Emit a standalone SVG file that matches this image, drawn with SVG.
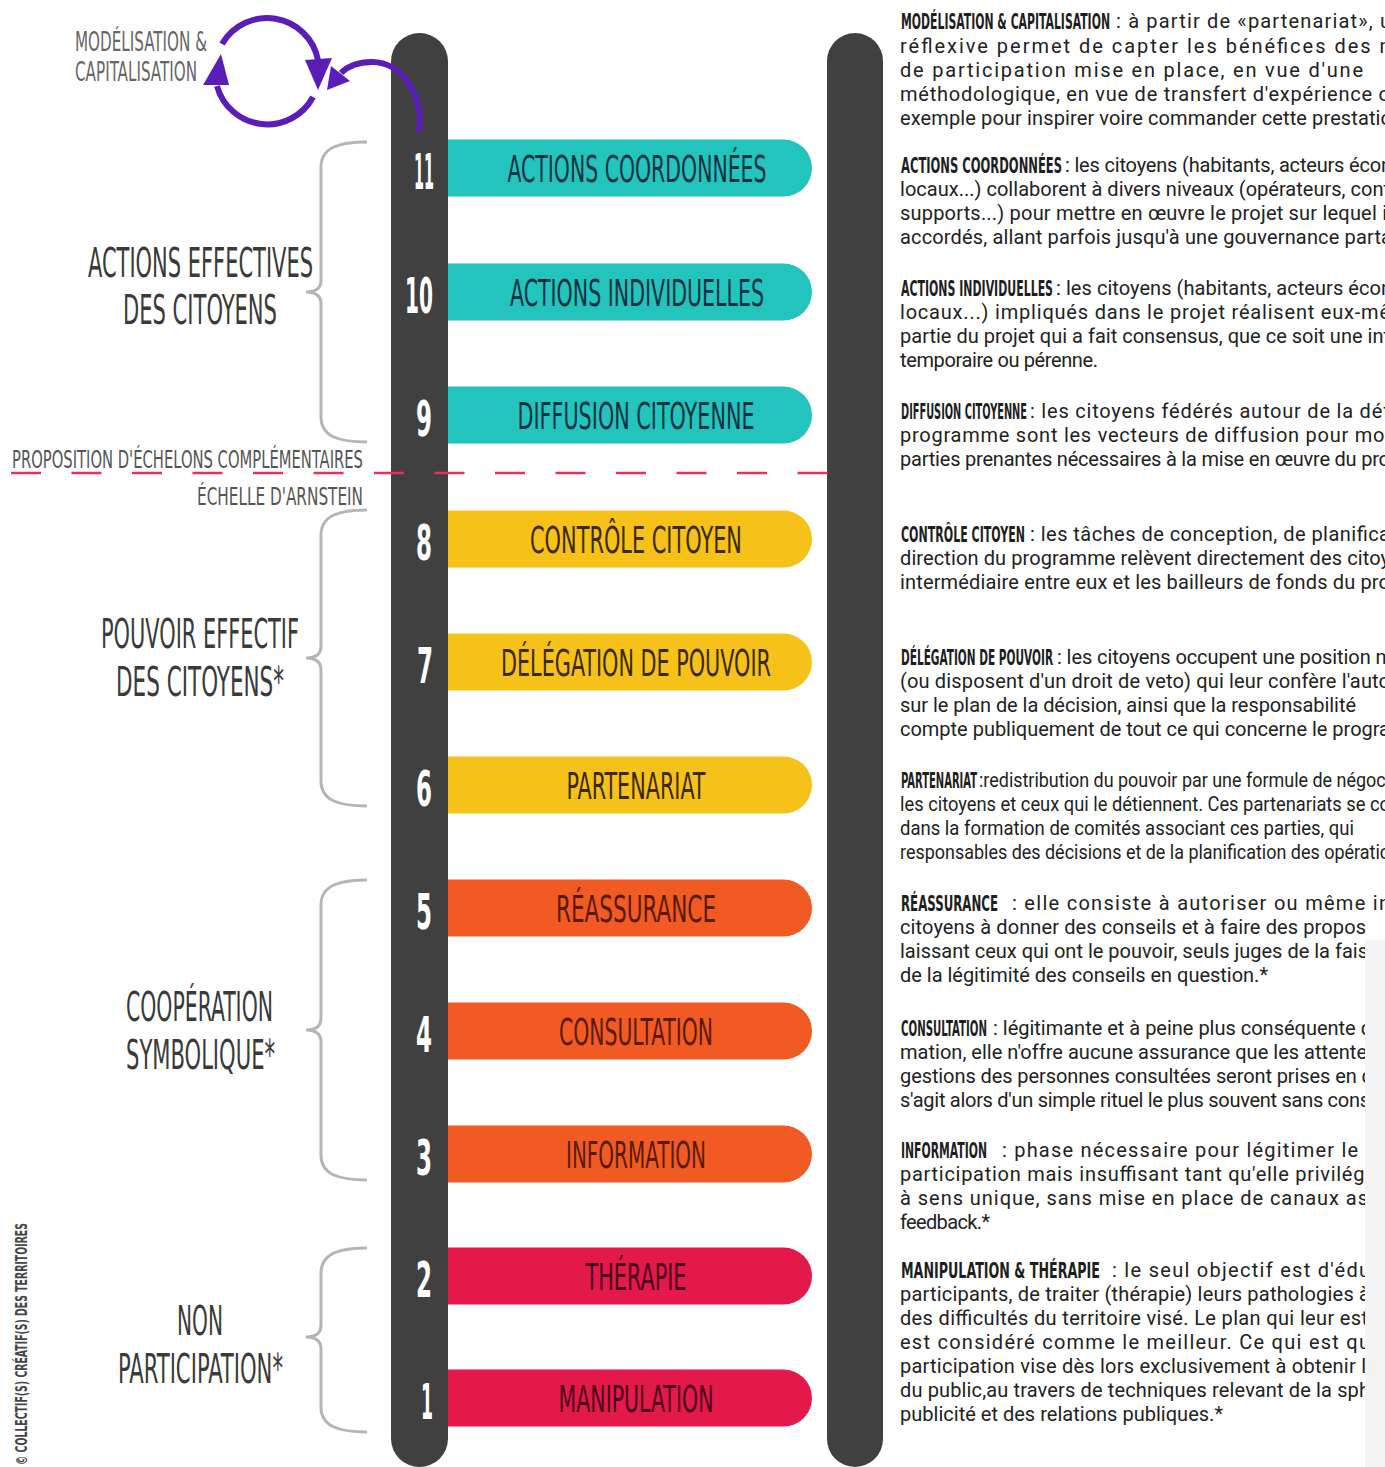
<svg xmlns="http://www.w3.org/2000/svg" width="1385" height="1467" viewBox="0 0 1385 1467">
<defs>
<style>
.rail{fill:#404040}
.cond{font-family:"DejaVu Sans Condensed","DejaVu Sans","Liberation Sans Narrow",sans-serif;font-stretch:condensed}
.num{font-size:50px;fill:#ffffff;text-anchor:middle;font-weight:bold}
.bt{font-size:38px;text-anchor:middle}
.grp{font-size:41px;fill:#3a3a3a;text-anchor:middle}
.hd{font-size:21px;fill:#1e1e1e;font-weight:bold}
.bd{font-family:Roboto,"Liberation Sans",sans-serif;font-size:20px;fill:#222222}
.brace{fill:none;stroke:#b5b5b5;stroke-width:3}
.cyan{fill:#22c4bd}.yel{fill:#f6c21a}.ora{fill:#f15a22}.red{fill:#e3184b}
.tcyan{fill:#12323f}.tyel{fill:#3b2a05}.tora{fill:#5a1a08}.tred{fill:#4a0618}
.purple{fill:none;stroke:#5b1db8;stroke-width:6}
.phead{fill:#5b1db8}
</style>
</defs>
<rect width="1385" height="1467" fill="#ffffff"/>

<!-- rails -->
<g id="rails">
<rect class="rail" x="391" y="33" width="57" height="1434" rx="28.5"/>
<rect class="rail" x="827" y="33" width="56" height="1434" rx="28"/>
</g>

<!-- rungs -->
<g id="rung11"><path class="cyan" d="M448,139.5 H783.5 a28.5,28.5 0 0 1 0,57 H448 Z"/><text class="cond num" x="424" y="189" textLength="20" lengthAdjust="spacingAndGlyphs">11</text><text class="cond bt tcyan" x="637" y="182" textLength="259" lengthAdjust="spacingAndGlyphs">ACTIONS COORDONNÉES</text></g>
<g id="rung10"><path class="cyan" d="M448,263.5 H783.5 a28.5,28.5 0 0 1 0,57 H448 Z"/><text class="cond num" x="419" y="313" textLength="28" lengthAdjust="spacingAndGlyphs">10</text><text class="cond bt tcyan" x="637" y="306" textLength="254" lengthAdjust="spacingAndGlyphs">ACTIONS INDIVIDUELLES</text></g>
<g id="rung9"><path class="cyan" d="M448,386.5 H783.5 a28.5,28.5 0 0 1 0,57 H448 Z"/><text class="cond num" x="424" y="436" textLength="16" lengthAdjust="spacingAndGlyphs">9</text><text class="cond bt tcyan" x="636" y="429" textLength="237" lengthAdjust="spacingAndGlyphs">DIFFUSION CITOYENNE</text></g>
<g id="rung8"><path class="yel" d="M448,510.5 H783.5 a28.5,28.5 0 0 1 0,57 H448 Z"/><text class="cond num" x="424" y="560" textLength="16" lengthAdjust="spacingAndGlyphs">8</text><text class="cond bt tyel" x="636" y="553" textLength="212" lengthAdjust="spacingAndGlyphs">CONTRÔLE CITOYEN</text></g>
<g id="rung7"><path class="yel" d="M448,633.5 H783.5 a28.5,28.5 0 0 1 0,57 H448 Z"/><text class="cond num" x="425" y="683" textLength="16" lengthAdjust="spacingAndGlyphs">7</text><text class="cond bt tyel" x="636" y="676" textLength="270" lengthAdjust="spacingAndGlyphs">DÉLÉGATION DE POUVOIR</text></g>
<g id="rung6"><path class="yel" d="M448,756.5 H783.5 a28.5,28.5 0 0 1 0,57 H448 Z"/><text class="cond num" x="424" y="806" textLength="16" lengthAdjust="spacingAndGlyphs">6</text><text class="cond bt tyel" x="636" y="799" textLength="139" lengthAdjust="spacingAndGlyphs">PARTENARIAT</text></g>
<g id="rung5"><path class="ora" d="M448,879.5 H783.5 a28.5,28.5 0 0 1 0,57 H448 Z"/><text class="cond num" x="424" y="929" textLength="16" lengthAdjust="spacingAndGlyphs">5</text><text class="cond bt tora" x="636" y="922" textLength="160" lengthAdjust="spacingAndGlyphs">RÉASSURANCE</text></g>
<g id="rung4"><path class="ora" d="M448,1002.5 H783.5 a28.5,28.5 0 0 1 0,57 H448 Z"/><text class="cond num" x="424" y="1052" textLength="16" lengthAdjust="spacingAndGlyphs">4</text><text class="cond bt tora" x="636" y="1045" textLength="154" lengthAdjust="spacingAndGlyphs">CONSULTATION</text></g>
<g id="rung3"><path class="ora" d="M448,1125.5 H783.5 a28.5,28.5 0 0 1 0,57 H448 Z"/><text class="cond num" x="424" y="1175" textLength="16" lengthAdjust="spacingAndGlyphs">3</text><text class="cond bt tora" x="636" y="1168" textLength="140" lengthAdjust="spacingAndGlyphs">INFORMATION</text></g>
<g id="rung2"><path class="red" d="M448,1247.5 H783.5 a28.5,28.5 0 0 1 0,57 H448 Z"/><text class="cond num" x="424" y="1297" textLength="16" lengthAdjust="spacingAndGlyphs">2</text><text class="cond bt tred" x="636" y="1290" textLength="101" lengthAdjust="spacingAndGlyphs">THÉRAPIE</text></g>
<g id="rung1"><path class="red" d="M448,1369.5 H783.5 a28.5,28.5 0 0 1 0,57 H448 Z"/><text class="cond num" x="427" y="1419" textLength="12" lengthAdjust="spacingAndGlyphs">1</text><text class="cond bt tred" x="636" y="1412" textLength="155" lengthAdjust="spacingAndGlyphs">MANIPULATION</text></g>

<!-- dashed separator -->
<g id="separator">
<line x1="11" y1="473" x2="828" y2="473" stroke="#e2335c" stroke-width="2.5" stroke-dasharray="30 30.5"/>
<text class="cond" x="12" y="468" font-size="25" fill="#555555" textLength="351" lengthAdjust="spacingAndGlyphs">PROPOSITION D'ÉCHELONS COMPLÉMENTAIRES</text>
<text class="cond" x="197" y="505" font-size="25" fill="#555555" textLength="166" lengthAdjust="spacingAndGlyphs">ÉCHELLE D'ARNSTEIN</text>
</g>

<!-- group braces and labels -->
<g id="group-actions">
<path class="brace" d="M367,142 C340,142 321,147 321,167 V280 C321,289 314,292 306,292 C314,292 321,295 321,304 V417 C321,437 340,442 367,442"/>
<text class="cond grp" x="200.5" y="277" textLength="225" lengthAdjust="spacingAndGlyphs">ACTIONS EFFECTIVES</text>
<text class="cond grp" x="200" y="324" textLength="154" lengthAdjust="spacingAndGlyphs">DES CITOYENS</text>
</g>
<g id="group-pouvoir">
<path class="brace" d="M367,510 C340,510 321,515 321,535 V646 C321,655 314,658 306,658 C314,658 321,661 321,670 V781 C321,801 340,806 367,806"/>
<text class="cond grp" x="200" y="648" textLength="198" lengthAdjust="spacingAndGlyphs">POUVOIR EFFECTIF</text>
<text class="cond grp" x="200" y="696" textLength="168" lengthAdjust="spacingAndGlyphs">DES CITOYENS*</text>
</g>
<g id="group-cooperation">
<path class="brace" d="M367,880 C340,880 321,885 321,905 V1018 C321,1027 314,1030 306,1030 C314,1030 321,1033 321,1042 V1155 C321,1175 340,1180 367,1180"/>
<text class="cond grp" x="199.5" y="1021" textLength="147" lengthAdjust="spacingAndGlyphs">COOPÉRATION</text>
<text class="cond grp" x="200.5" y="1069" textLength="149" lengthAdjust="spacingAndGlyphs">SYMBOLIQUE*</text>
</g>
<g id="group-non">
<path class="brace" d="M367,1248 C340,1248 321,1253 321,1273 V1325 C321,1334 314,1337 306,1337 C314,1337 321,1340 321,1349 V1407 C321,1427 340,1432 367,1432"/>
<text class="cond grp" x="200" y="1335" textLength="46" lengthAdjust="spacingAndGlyphs">NON</text>
<text class="cond grp" x="200.5" y="1383" textLength="165" lengthAdjust="spacingAndGlyphs">PARTICIPATION*</text>
</g>

<!-- modelisation loop -->
<g id="node-modelisation">
<text class="cond" x="75" y="51" font-size="26" fill="#666666" textLength="132" lengthAdjust="spacingAndGlyphs">MODÉLISATION &amp;</text>
<text class="cond" x="75" y="81" font-size="26" fill="#666666" textLength="122" lengthAdjust="spacingAndGlyphs">CAPITALISATION</text>
</g>
<g id="connectors">
<path class="purple" d="M222,44 A52,52 0 0 1 318,60"/>
<polygon class="phead" points="305,60 332,58 318,90"/>
<path class="purple" d="M313,97 A52,52 0 0 1 217,86"/>
<polygon class="phead" points="203,85 229,85 221,54"/>
<path class="purple" d="M419,132 C424,95 402,62 372,62 C357,62 347,67 341,73"/>
<polygon class="phead" points="331,66 350,81 327,90"/>
</g>

<!-- copyright -->
<text class="cond" transform="translate(27,1465) rotate(-90)" x="0" y="0" font-size="15" fill="#444444" font-weight="bold" textLength="242" lengthAdjust="spacingAndGlyphs">© COLLECTIF(S) CRÉATIF(S) DES TERRITOIRES</text>

<!-- descriptions -->
<g id="descriptions">
<text class="cond hd" x="901" y="29" textLength="209" lengthAdjust="spacingAndGlyphs">MODÉLISATION &amp; CAPITALISATION</text>
<text class="bd" x="1116" y="28" textLength="275">: à partir de «partenariat», u</text>
<text class="bd" x="900" y="53" textLength="497">réflexive permet de capter les bénéfices des m</text>
<text class="bd" x="900" y="77" textLength="463">de participation mise en place, en vue d'une</text>
<text class="bd" x="900" y="101" textLength="490">méthodologique, en vue de transfert d'expérience o</text>
<text class="bd" x="900" y="125" textLength="492">exemple pour inspirer voire commander cette prestatio</text>

<text class="cond hd" x="901" y="173" textLength="161" lengthAdjust="spacingAndGlyphs">ACTIONS COORDONNÉES</text>
<text class="bd" x="1065" y="172" textLength="327">: les citoyens (habitants, acteurs écon</text>
<text class="bd" x="900" y="196" textLength="490">locaux...) collaborent à divers niveaux (opérateurs, cont</text>
<text class="bd" x="900" y="220" textLength="487">supports...) pour mettre en œuvre le projet sur lequel i</text>
<text class="bd" x="900" y="244" textLength="492">accordés, allant parfois jusqu'à une gouvernance parta</text>

<text class="cond hd" x="901" y="296" textLength="152" lengthAdjust="spacingAndGlyphs">ACTIONS INDIVIDUELLES</text>
<text class="bd" x="1056" y="295" textLength="336">: les citoyens (habitants, acteurs écon</text>
<text class="bd" x="900" y="319" textLength="490">locaux...) impliqués dans le projet réalisent eux-mê</text>
<text class="bd" x="900" y="343" textLength="490">partie du projet qui a fait consensus, que ce soit une int</text>
<text class="bd" x="900" y="367" textLength="198">temporaire ou pérenne.</text>

<text class="cond hd" x="901" y="419" textLength="126" lengthAdjust="spacingAndGlyphs">DIFFUSION CITOYENNE</text>
<text class="bd" x="1030" y="418" textLength="360">: les citoyens fédérés autour de la déf</text>
<text class="bd" x="900" y="442" textLength="490">programme sont les vecteurs de diffusion pour mol</text>
<text class="bd" x="900" y="466" textLength="490">parties prenantes nécessaires à la mise en œuvre du pro</text>

<text class="cond hd" x="901" y="542" textLength="124" lengthAdjust="spacingAndGlyphs">CONTRÔLE CITOYEN</text>
<text class="bd" x="1030" y="541" textLength="360">: les tâches de conception, de planifica</text>
<text class="bd" x="900" y="565" textLength="490">direction du programme relèvent directement des citoy</text>
<text class="bd" x="900" y="589" textLength="490">intermédiaire entre eux et les bailleurs de fonds du pro</text>

<text class="cond hd" x="901" y="665" textLength="152" lengthAdjust="spacingAndGlyphs">DÉLÉGATION DE POUVOIR</text>
<text class="bd" x="1057" y="664" textLength="336">: les citoyens occupent une position m</text>
<text class="bd" x="900" y="688" textLength="490">(ou disposent d'un droit de veto) qui leur confère l'auto</text>
<text class="bd" x="900" y="712" textLength="456">sur le plan de la décision, ainsi que la responsabilité</text>
<text class="bd" x="900" y="736" textLength="490">compte publiquement de tout ce qui concerne le progra</text>

<text class="cond hd" x="901" y="788" textLength="76" lengthAdjust="spacingAndGlyphs">PARTENARIAT</text>
<text class="bd" x="979" y="787" textLength="411" lengthAdjust="spacingAndGlyphs">:redistribution du pouvoir par une formule de négoci</text>
<text class="bd" x="900" y="811" textLength="490" lengthAdjust="spacingAndGlyphs">les citoyens et ceux qui le détiennent. Ces partenariats se co</text>
<text class="bd" x="900" y="835" textLength="454" lengthAdjust="spacingAndGlyphs">dans la formation de comités associant ces parties, qui</text>
<text class="bd" x="900" y="859" textLength="490" lengthAdjust="spacingAndGlyphs">responsables des décisions et de la planification des opératio</text>

<text class="cond hd" x="901" y="911" textLength="97" lengthAdjust="spacingAndGlyphs">RÉASSURANCE</text>
<text class="bd" x="1012" y="910" textLength="378">: elle consiste à autoriser ou même in</text>
<text class="bd" x="900" y="934" textLength="466">citoyens à donner des conseils et à faire des propos</text>
<text class="bd" x="900" y="958" textLength="468">laissant ceux qui ont le pouvoir, seuls juges de la fais</text>
<text class="bd" x="900" y="982" textLength="368">de la légitimité des conseils en question.*</text>

<text class="cond hd" x="901" y="1036" textLength="86" lengthAdjust="spacingAndGlyphs">CONSULTATION</text>
<text class="bd" x="993" y="1035" textLength="379">: légitimante et à peine plus conséquente q</text>
<text class="bd" x="900" y="1059" textLength="467">mation, elle n'offre aucune assurance que les attente</text>
<text class="bd" x="900" y="1083" textLength="472">gestions des personnes consultées seront prises en c</text>
<text class="bd" x="900" y="1107" textLength="470">s'agit alors d'un simple rituel le plus souvent sans cons</text>

<text class="cond hd" x="901" y="1158" textLength="86" lengthAdjust="spacingAndGlyphs">INFORMATION</text>
<text class="bd" x="1002" y="1157" textLength="370">: phase nécessaire pour légitimer le t</text>
<text class="bd" x="900" y="1181" textLength="470">participation mais insuffisant tant qu'elle privilégi</text>
<text class="bd" x="900" y="1205" textLength="468">à sens unique, sans mise en place de canaux as</text>
<text class="bd" x="900" y="1229" textLength="90">feedback.*</text>

<text class="cond hd" x="901" y="1278" textLength="199" lengthAdjust="spacingAndGlyphs">MANIPULATION &amp; THÉRAPIE</text>
<text class="bd" x="1112" y="1277" textLength="258">: le seul objectif est d'édu</text>
<text class="bd" x="900" y="1301" textLength="470">participants, de traiter (thérapie) leurs pathologies à</text>
<text class="bd" x="900" y="1325" textLength="468">des difficultés du territoire visé. Le plan qui leur est</text>
<text class="bd" x="900" y="1349" textLength="470">est considéré comme le meilleur. Ce qui est qu</text>
<text class="bd" x="900" y="1373" textLength="466">participation vise dès lors exclusivement à obtenir l</text>
<text class="bd" x="900" y="1397" textLength="470">du public,au travers de techniques relevant de la sph</text>
<text class="bd" x="900" y="1421" textLength="323">publicité et des relations publiques.*</text>
</g>

<rect x="1365" y="940" width="20" height="527" fill="#f4f4f4"/>
</svg>
